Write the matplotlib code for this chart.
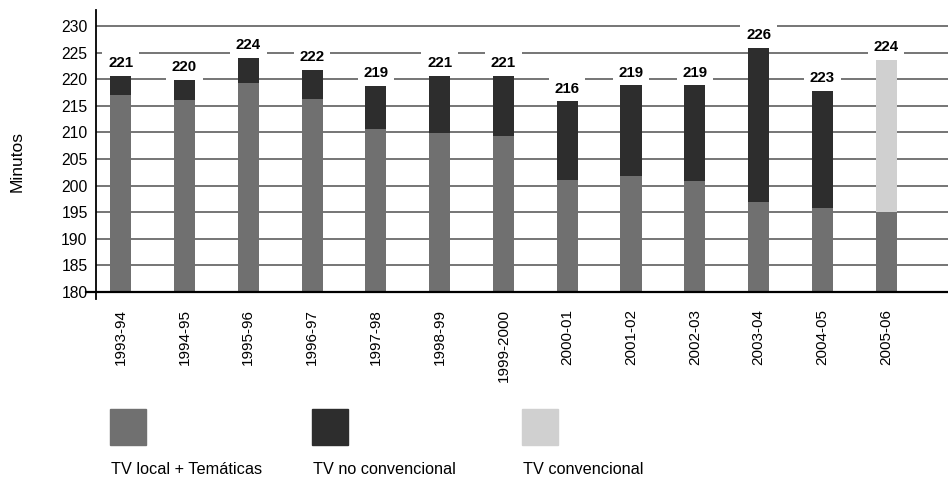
import matplotlib
matplotlib.use("Agg")
import matplotlib.pyplot as plt
from matplotlib.patches import Rectangle

# data
seasons = ["1993-94", "1994-95", "1995-96", "1996-97", "1997-98", "1998-99", "1999-2000",
           "2000-01", "2001-02", "2002-03", "2003-04", "2004-05", "2005-06"]
tv_local = [217.0, 216.0, 219.2, 216.2, 210.7, 209.8, 209.3, 201.1, 201.8, 200.9, 197.0, 195.8, 195.0]
tv_no_conv = [3.8, 4.0, 5.0, 5.7, 8.2, 11.0, 11.5, 14.9, 17.2, 18.1, 29.0, 22.2, 0.0]
tv_conv = [0, 0, 0, 0, 0, 0, 0, 0, 0, 0, 0, 0, 28.8]
totals = [221, 220, 224, 222, 219, 221, 221, 216, 219, 219, 226, 223, 224]
legend_labels = ["TV local + Temáticas", "TV no convencional", "TV convencional"]

c_local = "#707070"
c_noconv = "#2d2d2d"
c_conv = "#d0d0d0"
font = "Liberation Sans"

fig = plt.figure(figsize=(9.48, 4.79), dpi=100)
ax = fig.add_axes([96 / 948, 1 - 299 / 479, 1 - 96 / 948, 289 / 479])

x = list(range(len(seasons)))
w = 0.33
base = 180
bottom_h = [v - base for v in tv_local]
ax.bar(x, bottom_h, w, bottom=base, color=c_local, zorder=3)
ax.bar(x, tv_no_conv, w, bottom=tv_local, color=c_noconv, zorder=3)
ax.bar(x, tv_conv, w, bottom=tv_local, color=c_conv, zorder=3)

# gridlines
for g in range(185, 231, 5):
    ax.axhline(g, color="#505050", lw=1.1, zorder=1)
ax.axhline(180, xmin=-0.012, color="black", lw=1.6, zorder=4, clip_on=False)

# value labels on top (white box breaks the gridlines)
for i in x:
    top = tv_local[i] + tv_no_conv[i] + tv_conv[i]
    ax.annotate(str(totals[i]), (i, top), xytext=(0, 3.5), textcoords="offset points",
                ha="center", va="bottom", fontsize=10.8, fontweight="bold",
                family=font, zorder=5,
                bbox=dict(boxstyle="square,pad=0.38", fc="white", ec="none"))

ax.set_xlim(-0.387, 12.97)
ax.set_ylim(178.7, 233)
ax.set_yticks(range(180, 231, 5))
ax.set_yticklabels([str(v) for v in range(180, 231, 5)], family=font, fontsize=11.3)
ax.set_xticks(x)
ax.set_xticklabels(seasons, rotation=90, family=font, fontsize=11, va="top")
ax.tick_params(axis="both", length=0)
ax.tick_params(axis="y", pad=6)
ax.tick_params(axis="x", pad=7)

for s in ["top", "right", "bottom"]:
    ax.spines[s].set_visible(False)
ax.spines["left"].set_linewidth(1.3)
ax.spines["left"].set_color("black")

fig.text(17.5 / 948, 1 - 162 / 479, "Minutos", rotation=90, ha="center", va="center",
         family=font, fontsize=12.5)

# legend drawn below
leg_x = [110, 312, 522]
leg_c = [c_local, c_noconv, c_conv]
for lx, lc, lab in zip(leg_x, leg_c, legend_labels):
    fig.patches.append(Rectangle((lx / 948, 1 - 445 / 479), 36 / 948, 36 / 479,
                                 transform=fig.transFigure, color=lc))
    fig.text((lx + 1) / 948, 1 - 474 / 479, lab, ha="left", va="baseline",
             family=font, fontsize=11.7)

fig.savefig("out.png", dpi=100)
